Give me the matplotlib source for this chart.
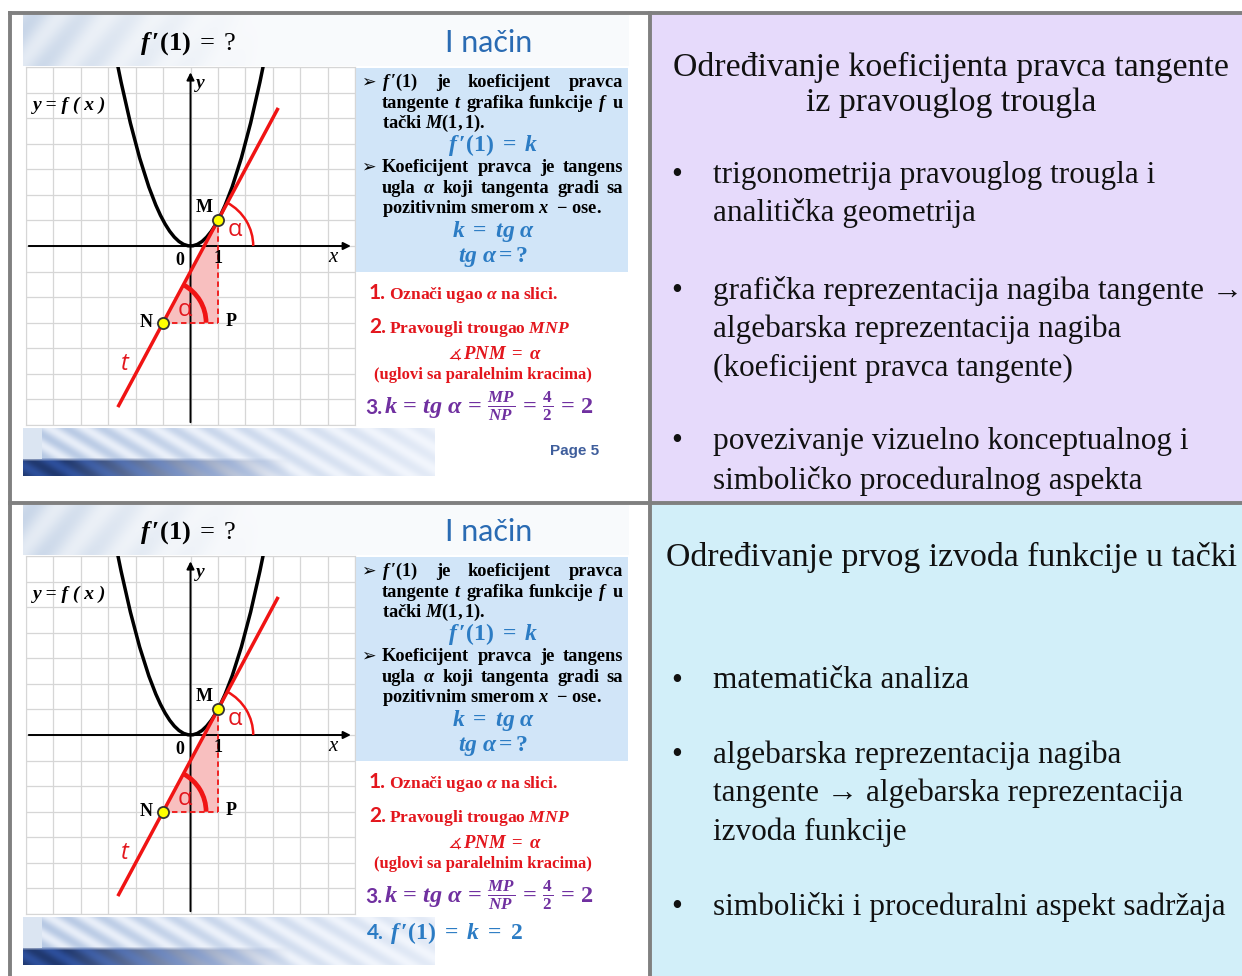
import matplotlib
matplotlib.use("Agg")
import matplotlib.pyplot as plt
import numpy as np
from matplotlib.patches import Rectangle, Polygon, Arc, PathPatch
from matplotlib.path import Path

W, H = 1242, 976

plt.rcParams.update({
    "mathtext.fontset": "custom",
    "mathtext.rm": "Liberation Serif",
    "mathtext.it": "Liberation Serif:italic",
    "mathtext.bf": "Liberation Serif:bold",
    "mathtext.bfit": "Liberation Serif:italic:bold",
    "mathtext.fallback": "stix",
})

# graph on the slide (grid units)
GRID_X = (-6, 6)
GRID_Y = (-7, 7)
PARABOLA_ENDS = [(-2.7, 7.29), (2.7, 7.29)]
PARABOLA_CTRL = (0.0, -7.29)
TANGENT_ENDS = [(-2.65, -6.3), (3.2, 5.4)]
POINT_M = (1, 1)
POINT_N = (-1, -3)
POINT_P = (1, -3)
TANGENT_SLOPE = 2
TANGENT_ZERO = (0.5, 0)

# right-hand column
TOP_TITLE = ["Određivanje koeficijenta pravca tangente", "iz pravouglog trougla"]
TOP_BULLETS = [
    ["trigonometrija pravouglog trougla i", "analitička geometrija"],
    ["grafička reprezentacija nagiba tangente →", "algebarska reprezentacija nagiba",
     "(koeficijent pravca tangente)"],
    ["povezivanje vizuelno konceptualnog i", "simboličko proceduralnog aspekta"],
]
BOTTOM_TITLE = ["Određivanje prvog izvoda funkcije u tački"]
BOTTOM_BULLETS = [
    ["matematička analiza"],
    ["algebarska reprezentacija nagiba", "tangente → algebarska reprezentacija", "izvoda funkcije"],
    ["simbolički i proceduralni aspekt sadržaja"],
]

BORDER = "#808080"
LAVENDER = "#E6DAFB"
LIGHTBLUE = "#D2EFF9"
BOX = "#D1E5F8"
TITLE_BLUE = "#2A6BB3"
EQ_BLUE = "#2C7CC4"
RED = "#E3161D"
LINE_RED = "#F01414"
PURPLE = "#7030A0"
SERIF = ["Liberation Serif", "DejaVu Serif"]

F1 = r"\mathbfit{f}\,\mathbf{′(1)}"
EQ = r"\,\mathbf{=}\,"

fig = plt.figure(figsize=(W / 100, H / 100), dpi=100)
base = fig.add_axes([0, 0, 1, 1])
base.axis("off")
renderer = fig.canvas.get_renderer()


def px_axes(x0, y0, x1, y1):
    return fig.add_axes([x0 / W, 1 - y1 / H, (x1 - x0) / W, (y1 - y0) / H])


def header_band(w, h):
    xx = np.linspace(0, 1, w)[None, :]
    yy = np.linspace(0, 1, h)[:, None]
    streak = 0.5 + 0.5 * np.sin((xx * w * 0.9 + yy * h * 0.7) / 7.0)
    fade = np.clip(1 - xx / 0.4, 0, 1) ** 1.3
    s = fade * (0.18 + 0.22 * streak) + 0.05
    white = np.array([1.0, 1.0, 1.0])
    blue = np.array([0.52, 0.64, 0.80])
    return white * (1 - s[..., None]) + blue * s[..., None]


def footer_band(w, h):
    xx = np.linspace(0, 1, w)[None, :]
    yy = np.linspace(0, 1, h)[:, None]
    streak = 0.5 + 0.5 * np.sin((xx * w * 0.8 - yy * h * 1.3) / 4.5)
    s = (0.15 + 0.4 * streak) * np.clip(1 - xx * 0.7, 0, 1)
    white = np.array([0.97, 0.98, 1.0])
    blue = np.array([0.50, 0.62, 0.80])
    img = white * (1 - s[..., None]) + blue * s[..., None]
    dark = np.clip((yy - 0.62) / 0.08, 0, 1) * np.clip(1 - (xx - 0.1) / 0.55, 0, 1)
    navy = np.array([0.16, 0.28, 0.55]) * (0.8 + 0.3 * streak[..., None])
    img = img * (1 - dark[..., None]) + navy * dark[..., None]
    strip = (xx < 0.045) & (yy < 0.65)
    img = np.where(strip[..., None], np.array([0.86, 0.90, 0.95]), img)
    return np.clip(img, 0, 1)


def justified(x0, x1, y, words, size, color="black"):
    texts = [base.text(x0, y, w, fontsize=size, color=color, family=SERIF,
                       fontweight="bold", va="baseline", ha="left") for w in words]
    widths = [t.get_window_extent(renderer).width for t in texts]
    gap = (x1 - x0 - sum(widths)) / (len(words) - 1)
    x = x0
    for t, wd in zip(texts, widths):
        t.set_x(x)
        x += wd + gap


def draw_graph(off):
    ax = px_axes(26, 67 + off, 355, 425 + off)
    ax.set_xlim(*GRID_X)
    ax.set_ylim(*GRID_Y)
    ax.set_xticks(np.arange(GRID_X[0], GRID_X[1] + 1))
    ax.set_yticks(np.arange(GRID_Y[0], GRID_Y[1] + 1))
    ax.grid(True, color="#D6D6D6", lw=0.9)
    ax.tick_params(length=0, labelbottom=False, labelleft=False)
    for sp in ax.spines.values():
        sp.set_color("#D6D6D6")
    ax.set_axisbelow(True)

    xpu = (355 - 26) / (GRID_X[1] - GRID_X[0])
    ypu = (425 - 67) / (GRID_Y[1] - GRID_Y[0])

    ax.annotate("", xy=(GRID_X[1] - 0.05, 0), xytext=(GRID_X[0], 0),
                arrowprops=dict(arrowstyle="-|>", color="black", lw=1.4, mutation_scale=11))
    ax.annotate("", xy=(0, GRID_Y[1] - 0.1), xytext=(0, GRID_Y[0]),
                arrowprops=dict(arrowstyle="-|>", color="black", lw=1.4, mutation_scale=11))

    ax.add_patch(Polygon([POINT_N, POINT_P, POINT_M], closed=True,
                         facecolor="#F8BFBF", edgecolor="none", zorder=2))
    ax.plot([POINT_N[0], POINT_P[0]], [POINT_N[1], POINT_P[1]], ls=(0, (3, 2)),
            color=LINE_RED, lw=1.3, zorder=3)
    ax.plot([POINT_P[0], POINT_M[0]], [POINT_P[1], POINT_M[1]], ls=(0, (3, 2)),
            color=LINE_RED, lw=1.3, zorder=3)

    parab = Path([PARABOLA_ENDS[0], PARABOLA_CTRL, PARABOLA_ENDS[1]],
                 [Path.MOVETO, Path.CURVE3, Path.CURVE3])
    ax.add_patch(PathPatch(parab, fill=False, edgecolor="black", lw=2.5, zorder=4))

    ax.plot([p[0] for p in TANGENT_ENDS], [p[1] for p in TANGENT_ENDS],
            color=LINE_RED, lw=2.5, solid_capstyle="butt", zorder=4)

    ang = np.degrees(np.arctan(TANGENT_SLOPE))
    ax.add_patch(Arc(POINT_N, 2 * 43 / xpu, 2 * 43 / ypu, theta1=0, theta2=ang,
                     color=LINE_RED, lw=3.4, zorder=4))
    ax.add_patch(Arc(TANGENT_ZERO, 2 * 49 / xpu, 2 * 49 / ypu, theta1=0, theta2=ang,
                     color=LINE_RED, lw=1.8, zorder=4))

    for pt in (POINT_M, POINT_N):
        ax.plot(*pt, "o", ms=8, mfc="#FFFF00", mec="#333333", mew=1.3, zorder=6)

    lab = dict(family=SERIF, fontweight="bold", fontsize=13, ha="center", va="center")
    ax.text(POINT_M[0] - 0.5, POINT_M[1] + 0.5, "M", **lab)
    ax.text(POINT_N[0] - 0.6, POINT_N[1], "N", **lab)
    ax.text(POINT_P[0] + 0.5, POINT_P[1] + 0.05, "P", **lab)
    ax.text(-0.38, -0.55, "0", **lab)
    ax.text(1.0, -0.5, "1", **lab)
    ax.text(5.2, -0.45, "x", family=SERIF, style="italic", fontsize=15, ha="center", va="center")
    ax.text(0.36, 6.35, "y", family=SERIF, style="italic", fontweight="bold", fontsize=14,
            ha="center", va="center")
    ax.text(-5.75, 5.5, "y = f ( x )", family=SERIF, style="italic", fontweight="bold",
            fontsize=14, ha="left", va="center")
    ax.text(1.62, 0.62, "α", family=["Open Sans", "DejaVu Sans"], color=RED, fontsize=17,
            ha="center", va="center", zorder=7)
    ax.text(-0.2, -2.5, "α", family=["Open Sans", "DejaVu Sans"], color=RED, fontsize=17,
            ha="center", va="center", zorder=7)
    ax.text(-2.4, -4.6, "t", family=["Open Sans", "DejaVu Sans"], style="italic", color=RED,
            fontsize=17, ha="center", va="center", zorder=7)


def draw_slide(off, last):
    base.imshow(header_band(606, 52), extent=(23, 629, 66 + off, 14 + off),
                aspect="auto", zorder=1)
    base.imshow(footer_band(412, 48), extent=(23, 435, 476 + off, 428 + off),
                aspect="auto", zorder=1)
    base.add_patch(Rectangle((355, 68 + off), 273, 204, facecolor=BOX, edgecolor="none", zorder=1))

    base.text(188, 44 + off, "$" + F1 + r"\;\mathrm{=}\;\mathrm{?}$", fontsize=19,
              ha="center", va="center", zorder=3)
    base.text(489, 43 + off, "I način", color=TITLE_BLUE, fontsize=22,
              family=["Lato", "DejaVu Sans"], ha="center", va="center", zorder=3)

    sz = 13.2
    base.text(368, 87 + off, "➢", fontsize=12.5, family="DejaVu Sans", ha="center", va="baseline")
    justified(382, 623, 87 + off, ["$" + F1 + "$", "je", "koeficijent", "pravca"], sz)
    justified(382, 623, 108 + off, ["tangente", r"$\mathbfit{t}$", "grafika", "funkcije",
                                    r"$\mathbfit{f}$", "u"], sz)
    base.text(382, 128 + off, r"tački $\mathbfit{M}\mathbf{(1,1)}$.", fontsize=sz, family=SERIF,
              fontweight="bold", va="baseline")
    base.text(493, 151 + off, "$" + F1 + r"\ \mathbf{=}\ \mathbfit{k}$", fontsize=17,
              color=EQ_BLUE, ha="center", va="baseline")
    base.text(368, 172 + off, "➢", fontsize=12.5, family="DejaVu Sans", ha="center", va="baseline")
    justified(382, 623, 172 + off, ["Koeficijent", "pravca", "je", "tangens"], sz)
    justified(382, 623, 193 + off, ["ugla", r"$\mathbfit{\alpha}$", "koji", "tangenta",
                                    "gradi", "sa"], sz)
    base.text(382, 213 + off, r"pozitivnim smerom $\mathbfit{x}$  − ose.", fontsize=sz,
              family=SERIF, fontweight="bold", va="baseline")
    base.text(493, 237 + off, r"$\mathbfit{k}\ \mathbf{=}\ \mathbfit{tg\ \alpha}$", fontsize=17,
              color=EQ_BLUE, ha="center", va="baseline")
    base.text(493, 262 + off, r"$\mathbfit{tg\ \alpha}\mathbf{=?}$", fontsize=17,
              color=EQ_BLUE, ha="center", va="baseline")

    num = dict(family=["Lato", "DejaVu Sans"], fontweight="bold", fontsize=15, va="baseline")
    rsz = 12.6
    base.text(369, 299 + off, "1.", color=RED, **num)
    base.text(389, 299 + off, r"Označi ugao $\mathbfit{\alpha}$ na slici.", color=RED,
              fontsize=rsz, family=SERIF, fontweight="bold", va="baseline")
    base.text(369, 333 + off, "2.", color=RED, **num)
    base.text(389, 333 + off, r"Pravougli trougao $\mathbfit{MNP}$", color=RED,
              fontsize=rsz, family=SERIF, fontweight="bold", va="baseline")
    base.text(495, 359 + off, r"$\measuredangle\,\mathbfit{PNM}\ \mathbf{=}\ \mathbfit{\alpha}$",
              color=RED, fontsize=13.5, ha="center", va="baseline")
    base.text(483, 379 + off, "(uglovi sa paralelnim kracima)", color=RED, fontsize=12,
              family=SERIF, fontweight="bold", ha="center", va="baseline")
    base.text(365, 414 + off, "3.", color=PURPLE, **num)
    base.text(384, 414 + off,
              r"$\mathbfit{k}" + EQ + r"\mathbfit{tg\ \alpha}" + EQ +
              r"\frac{\mathbfit{MP}}{\mathbfit{NP}}" + EQ + r"\frac{\mathbf{4}}{\mathbf{2}}" +
              EQ + r"\mathbf{2}$",
              color=PURPLE, fontsize=17.5, va="baseline")
    if last:
        base.text(367, 939 - 489 + off, "4.", color=EQ_BLUE, **num)
        base.text(390, 939 - 489 + off,
                  "$" + F1 + r"\ \mathbf{=}\ \mathbfit{k}\ \mathbf{=\ 2}$",
                  color=EQ_BLUE, fontsize=17, va="baseline")
    else:
        base.text(575, 451 + off, "Page 5", color="#3F5E9C", fontsize=11,
                  family=["Liberation Sans", "DejaVu Sans"], fontweight="bold",
                  ha="center", va="center")

    draw_graph(off)


def draw_column(title, title_y, bullets, bullet_y):
    txt = dict(family=SERIF, color="#111111", va="center")
    for i, line in enumerate(title):
        base.text(951, title_y + i * 36, line, ha="center", fontsize=24.3, **txt)
    for lines, y0 in zip(bullets, bullet_y):
        base.text(677, y0, "•", ha="center", fontsize=22.5, **txt)
        for j, line in enumerate(lines):
            base.text(713, y0 + j * 38.5, line, ha="left", fontsize=22.5, **txt)


# cell backgrounds
base.add_patch(Rectangle((650, 12), W - 650, 491, facecolor=LAVENDER, edgecolor="none", zorder=0))
base.add_patch(Rectangle((650, 503), W - 650, H - 503, facecolor=LIGHTBLUE, edgecolor="none", zorder=0))

draw_slide(0, last=False)
draw_slide(489, last=True)

draw_column(TOP_TITLE, 67, TOP_BULLETS, [175, 291, 442])
draw_column(BOTTOM_TITLE, 557, BOTTOM_BULLETS, [681, 755, 907])

# table rules
rule = dict(color=BORDER, lw=2.8, solid_capstyle="butt", zorder=5)
base.plot([8, W], [12.5, 12.5], **rule)
base.plot([10, 10], [11, H], **rule)
base.plot([649.5, 649.5], [11, H], **rule)
base.plot([8, W], [502.5, 502.5], **rule)

base.set_xlim(0, W)
base.set_ylim(H, 0)

fig.savefig("out.png", dpi=100)
